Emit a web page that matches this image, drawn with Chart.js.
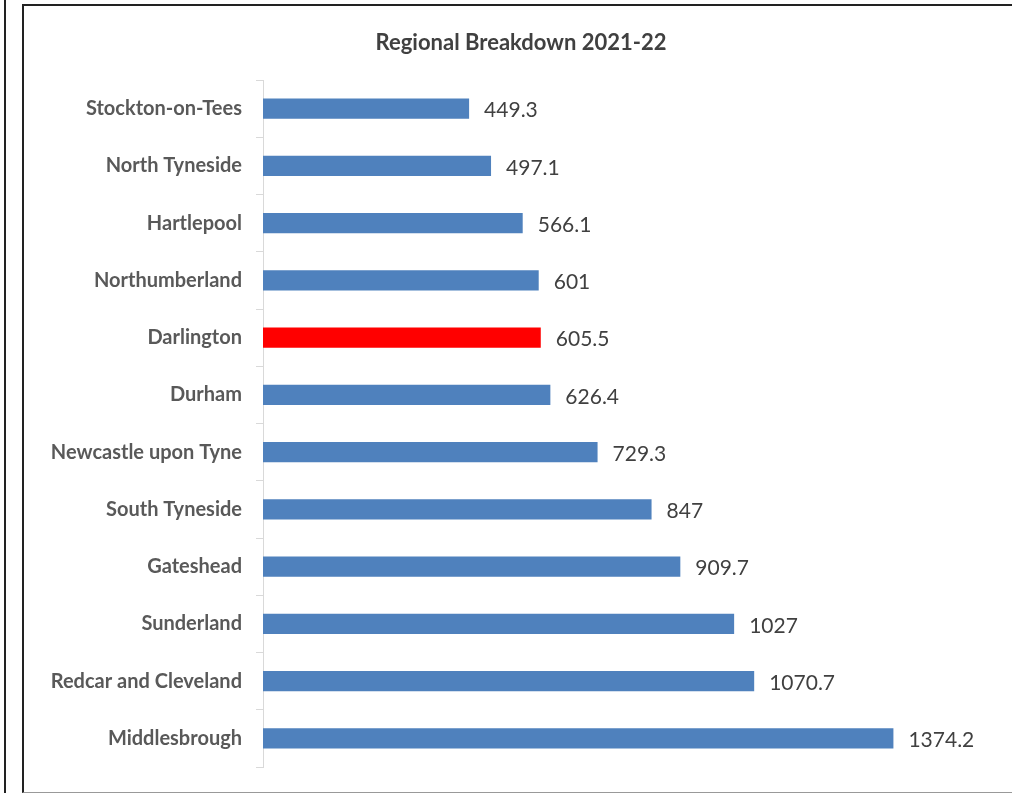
<!DOCTYPE html>
<html>
<head>
<meta charset="utf-8">
<script src="https://cdn.jsdelivr.net/npm/chart.js@4"></script>
<style>
  html, body { margin: 0; padding: 0; background: #fff; }
  #wrap { position: relative; width: 1012px; height: 793px; overflow: hidden; }
  #leftLine { position: absolute; left: 4px; top: 0; width: 2px; height: 793px; background: #222; }
  #box { position: absolute; left: 22px; top: 4px; width: 1000px; height: 786px;
         border-left: 2px solid #222; border-top: 2px solid #222; border-bottom: 1px solid #999; }
  #myChart { position: absolute; left: 0; top: 0; }
</style>
</head>
<body>
<div id="wrap">
  <div id="leftLine"></div>
  <div id="box"></div>
  <canvas id="myChart" width="1012" height="793"></canvas>
</div>
<script>
const areas = ['Stockton-on-Tees', 'North Tyneside', 'Hartlepool', 'Northumberland', 'Darlington',
    'Durham', 'Newcastle upon Tyne', 'South Tyneside', 'Gateshead', 'Sunderland',
    'Redcar and Cleveland', 'Middlesbrough'];
const rates = [449.3, 497.1, 566.1, 601, 605.5, 626.4, 729.3, 847, 909.7, 1027, 1070.7, 1374.2];
const highlight = 'Darlington';

const barColors = areas.map(a => a === highlight ? '#ff0000' : '#4f81bd');

// draws the value next to the end of each bar
const valueLabels = {
    id: 'valueLabels',
    afterDatasetsDraw(chart) {
        const c = chart.ctx;
        const meta = chart.getDatasetMeta(0);
        c.save();
        c.font = '21px Lato';
        c.fillStyle = '#404040';
        c.textAlign = 'left';
        c.textBaseline = 'middle';
        meta.data.forEach((bar, i) => {
            c.fillText(String(rates[i]), bar.x + 15, bar.y + 2);
        });
        c.restore();
    }
};

const ctx = document.getElementById('myChart');

var myChart = new Chart(ctx, {
    type: 'bar',
    data: {
        labels: areas,
        datasets: [{
            data: rates,
            backgroundColor: barColors,
            borderWidth: 0,
            categoryPercentage: 1,
            barPercentage: 0.35
        }]
    },
    options: {
        indexAxis: 'y',
        responsive: false,
        animation: false,
        layout: { padding: { left: 45, right: 15, top: 0, bottom: 25 } },
        plugins: {
            legend: { display: false },
            tooltip: { enabled: false },
            title: {
                display: true,
                text: 'Regional Breakdown 2021-22',
                color: '#404040',
                font: { family: 'Lato', size: 22, weight: 'bold' },
                padding: { top: 30, bottom: 23.6 }
            }
        },
        scales: {
            x: {
                display: false,
                min: 0,
                max: 1600
            },
            y: {
                afterFit(scale) { scale.width = 218; },
                border: { color: '#d9d9d9', width: 1 },
                grid: { drawOnChartArea: false, tickLength: 7, color: '#d9d9d9', offset: true },
                ticks: {
                    padding: 14,
                    color: '#595959',
                    font: { family: 'Lato', size: 20, weight: 'bold' }
                }
            }
        }
    },
    plugins: [valueLabels]
});
</script>
</body>
</html>
